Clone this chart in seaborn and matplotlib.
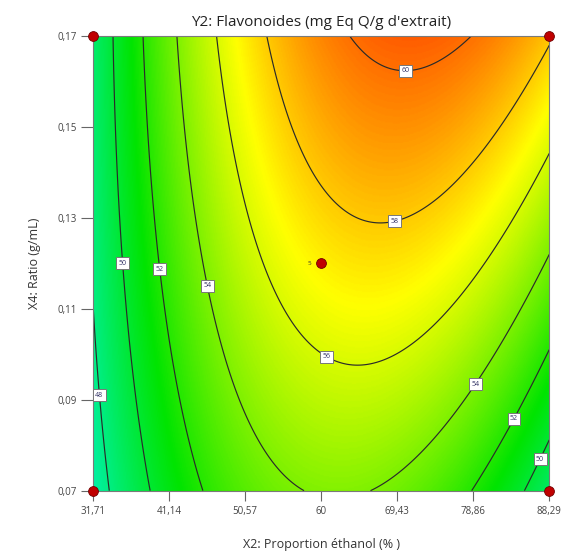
import numpy as np
import matplotlib
matplotlib.use("Agg")
import matplotlib.pyplot as plt
import seaborn as sns
from matplotlib.colors import LinearSegmentedColormap

# axis ticks
x2_ticks = [31.71, 41.14, 50.57, 60, 69.43, 78.86, 88.29]
x2_labels = ["31,71", "41,14", "50,57", "60", "69,43", "78,86", "88,29"]
x4_ticks = [0.07, 0.09, 0.11, 0.13, 0.15, 0.17]
x4_labels = ["0,07", "0,09", "0,11", "0,13", "0,15", "0,17"]

# quadratic model in coded units (estimated from the contours)
b0 = 57.12
b_x2 = 2.83
b_x4 = 2.70
b_x2x4 = 1.97
b_x2sq = -6.13
b_x4sq = -0.32

levels = [48, 50, 52, 54, 56, 58, 60]
# where the contour labels sit
label_x2 = [32.5, 35.3, 39.9, 45.8, 60.7, 69.1, 70.5, 78.9, 83.6, 86.7]
label_x4 = [0.091, 0.120, 0.1187, 0.115, 0.0996, 0.129, 0.1625, 0.0937, 0.0861, 0.0773]

# design points
design_x2 = [31.71, 88.29, 31.71, 88.29, 60]
design_x4 = [0.07, 0.07, 0.17, 0.17, 0.12]
center_reps = "5"

sns.set_theme(style="white")
plt.rcParams['font.family'] = ['Open Sans', 'DejaVu Sans']

x2_lo, x2_hi = x2_ticks[0], x2_ticks[-1]
x4_lo, x4_hi = x4_ticks[0], x4_ticks[-1]
x2 = np.linspace(x2_lo, x2_hi, 400)
x4 = np.linspace(x4_lo, x4_hi, 400)
X2, X4 = np.meshgrid(x2, x4)
A = (X2 - (x2_lo + x2_hi) / 2) / ((x2_hi - x2_lo) / 2)
B = (X4 - (x4_lo + x4_hi) / 2) / ((x4_hi - x4_lo) / 2)
Y = b0 + b_x2 * A + b_x4 * B + b_x2x4 * A * B + b_x2sq * A**2 + b_x4sq * B**2

cmap = LinearSegmentedColormap.from_list(
    "de", ["#0000ff", "#00f5e0", "#00e400", "#ffff00", "#ff0000"])

fig = plt.figure(figsize=(5.61, 5.55), dpi=100)
ax = fig.add_axes([0.1663, 0.1159, 0.8128, 0.8198])

ax.imshow(Y, origin="lower", extent=[x2_lo, x2_hi, x4_lo, x4_hi],
          aspect="auto", cmap=cmap, vmin=40, vmax=62.5, interpolation="bilinear")
cs = ax.contour(X2, X4, Y, levels=levels, colors="#2a2a2a", linewidths=0.85)
texts = ax.clabel(cs, levels, inline=False, fontsize=5, fmt="%d",
                  manual=list(zip(label_x2, label_x4)))
for t in texts:
    t.set_rotation(0)
    t.set_color("#333366")
    t.set_bbox(dict(boxstyle="square,pad=0.35", fc="white", ec="#777777", lw=0.7))

sns.scatterplot(x=design_x2, y=design_x4, ax=ax, s=50, color="#c00000",
                edgecolor="#700000", linewidth=0.6, clip_on=False, zorder=5)
ax.annotate(center_reps, (design_x2[-1], design_x4[-1]), xytext=(-7, 0),
            textcoords="offset points", ha="right", va="center", fontsize=4.5,
            color="#333333")

ax.set_xlim(x2_lo, x2_hi)
ax.set_ylim(x4_lo, x4_hi)
ax.set_xticks(x2_ticks)
ax.set_xticklabels(x2_labels)
ax.set_yticks(x4_ticks)
ax.set_yticklabels(x4_labels)
ax.tick_params(axis="x", direction="out", length=7, width=0.8, color="#666666",
               labelsize=7, labelcolor="#444444", pad=4, bottom=True)
ax.tick_params(axis="y", direction="out", length=9, width=0.8, color="#666666",
               labelsize=7, labelcolor="#444444", pad=3, left=True)
for s in ax.spines.values():
    s.set_color("#7a7a7a")
    s.set_linewidth(0.8)

ax.set_title("Y2: Flavonoides (mg Eq Q/g d'extrait)", fontsize=11, color="#222222", pad=7)
ax.set_xlabel("X2: Proportion éthanol (% )", fontsize=9, color="#333333", labelpad=15)
ax.set_ylabel("X4: Ratio (g/mL)", fontsize=9, color="#333333", labelpad=12)

fig.savefig("out.png", dpi=100)
